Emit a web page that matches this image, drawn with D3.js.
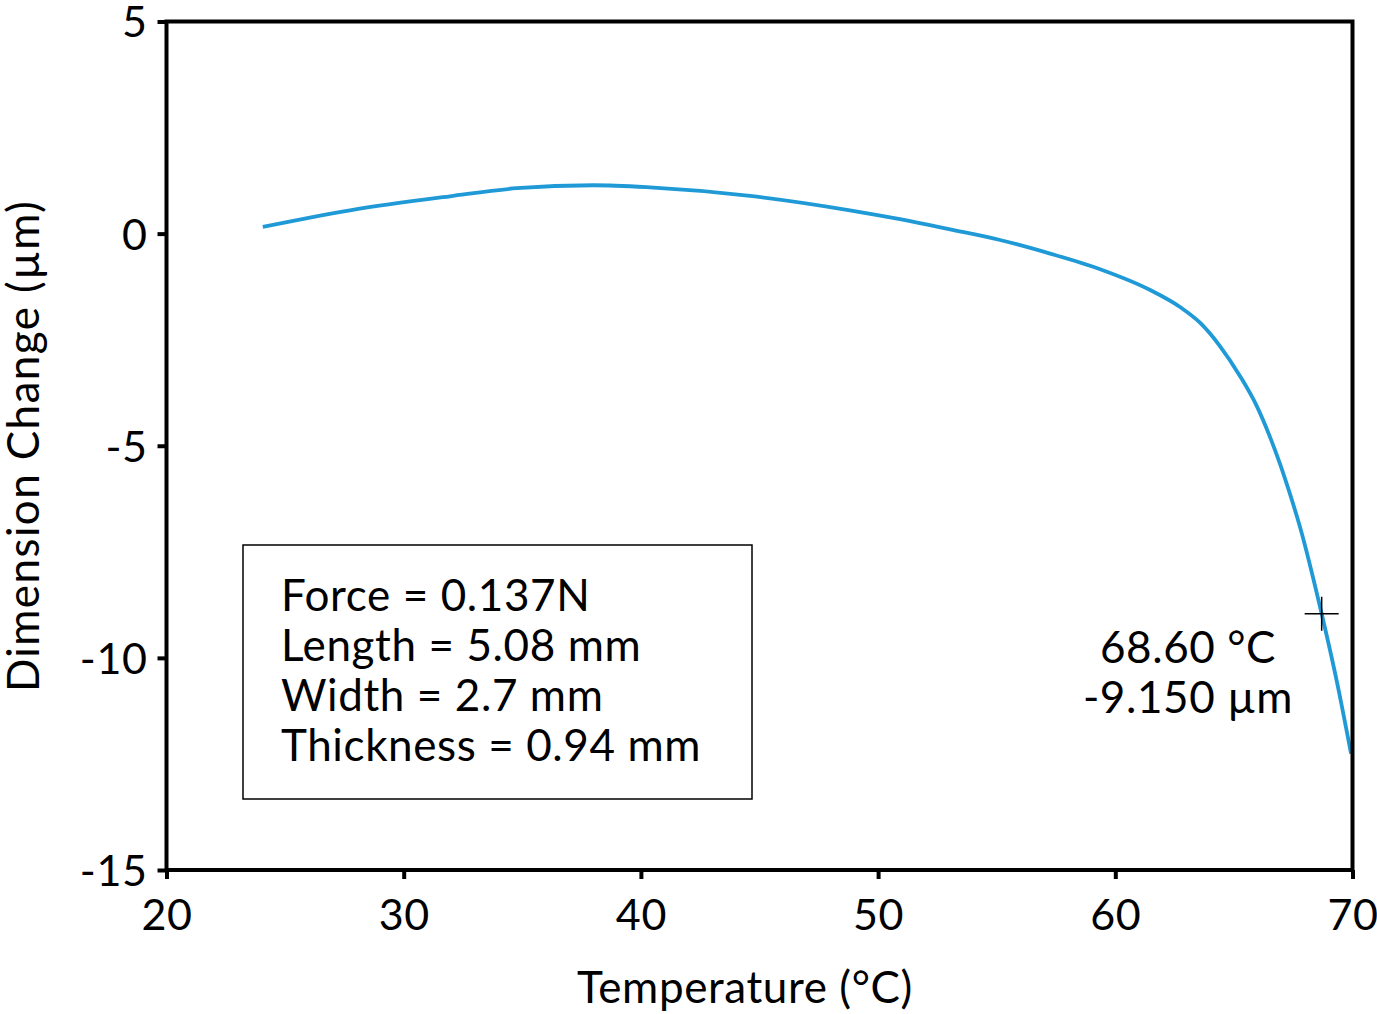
<!DOCTYPE html>
<html>
<head>
<meta charset="utf-8">
<script src="https://cdn.jsdelivr.net/npm/d3@7"></script>
<style>
  body { margin: 0; background: #fff; }
  text { font-family: Lato, "Noto Sans", sans-serif; fill: #000; letter-spacing: 0.6px; }
</style>
</head>
<body>
<div id="chart"></div>
<script>
// data
const temperature = [24.06, 27.74, 31.95, 34.76, 38.0, 40.38, 44.6, 48.81, 50.92, 53.03, 55.14, 57.25, 59.36, 61.47, 62.73, 63.57, 64.41, 65.26, 65.96, 66.52, 66.94, 67.36, 67.79, 68.7, 69.33, 69.94];
const dimension   = [0.16, 0.55, 0.88, 1.07, 1.14, 1.09, 0.89, 0.55, 0.34, 0.10, -0.15, -0.47, -0.84, -1.33, -1.73, -2.10, -2.65, -3.36, -4.06, -4.79, -5.42, -6.13, -6.92, -8.96, -10.53, -12.26];
const xTicks = [20, 30, 40, 50, 60, 70];
const yTicks = [5, 0, -5, -10, -15];
const infoLines = ["Force = 0.137N", "Length = 5.08 mm", "Width = 2.7 mm", "Thickness = 0.94 mm"];
const marker = { x: 68.7, y: -8.96 };
const markerLabel = ["68.60 °C", "-9.150 µm"];

const width = 1377, height = 1014;
const margin = { top: 21.5, right: 24.5, bottom: 144, left: 166.5 };

const svg = d3.select("#chart").append("svg")
  .attr("width", width).attr("height", height);

const x = d3.scaleLinear().domain([20, 70]).range([margin.left, width - margin.right]);
const y = d3.scaleLinear().domain([-15, 5]).range([height - margin.bottom, margin.top]);

// curve
const pts = temperature.map((t, i) => [t, dimension[i]]);
svg.append("path")
  .datum(pts)
  .attr("fill", "none")
  .attr("stroke", "#1f9ad6")
  .attr("stroke-width", 3.8)
  .attr("d", d3.line().x(d => x(d[0])).y(d => y(d[1])).curve(d3.curveMonotoneX));

// frame
svg.append("rect")
  .attr("x", x(20)).attr("y", y(5))
  .attr("width", x(70) - x(20)).attr("height", y(-15) - y(5))
  .attr("fill", "none").attr("stroke", "#000").attr("stroke-width", 4);

// axes
const fmt = d => String(d);
const xAxis = svg.append("g")
  .attr("transform", `translate(0,${y(-15)})`)
  .call(d3.axisBottom(x).tickValues(xTicks).tickFormat(fmt).tickSize(9).tickPadding(20));
const yAxis = svg.append("g")
  .attr("transform", `translate(${x(20)},0)`)
  .call(d3.axisLeft(y).tickValues(yTicks).tickFormat(fmt).tickSize(9).tickPadding(10));
[xAxis, yAxis].forEach(g => {
  g.select(".domain").remove();
  g.selectAll("line").attr("stroke", "#000").attr("stroke-width", 4);
  g.selectAll("text").style("font-size", "43px").attr("font-family", null);
});
xAxis.selectAll("text").attr("dy", "0.71em");
yAxis.selectAll("text").attr("dy", "0.36em");

// axis labels
svg.append("text")
  .attr("x", 745).attr("y", 1003)
  .attr("text-anchor", "middle")
  .style("font-size", "44px")
  .text("Temperature (°C)");

svg.append("text")
  .attr("transform", `translate(39,446) rotate(-90)`)
  .attr("text-anchor", "middle")
  .style("font-size", "44px")
  .style("letter-spacing", "1.4px")
  .text("Dimension Change (µm)");

// info box
svg.append("rect")
  .attr("x", 243).attr("y", 545)
  .attr("width", 509).attr("height", 254)
  .attr("fill", "none").attr("stroke", "#000").attr("stroke-width", 1.5);
svg.append("g").selectAll("text")
  .data(infoLines).join("text")
  .attr("x", 281).attr("y", (d, i) => 611 + i * 50)
  .style("font-size", "44px")
  .text(d => d);

// marker cross
const mx = x(marker.x), my = y(marker.y);
svg.append("line").attr("x1", mx - 17).attr("x2", mx + 17).attr("y1", my).attr("y2", my)
  .attr("stroke", "#000").attr("stroke-width", 1.5);
svg.append("line").attr("x1", mx).attr("x2", mx).attr("y1", my - 17).attr("y2", my + 17)
  .attr("stroke", "#000").attr("stroke-width", 1.5);
svg.append("g").selectAll("text")
  .data(markerLabel).join("text")
  .attr("x", 1188).attr("y", (d, i) => 663 + i * 50)
  .attr("text-anchor", "middle")
  .style("font-size", "44px")
  .text(d => d);
</script>
</body>
</html>
